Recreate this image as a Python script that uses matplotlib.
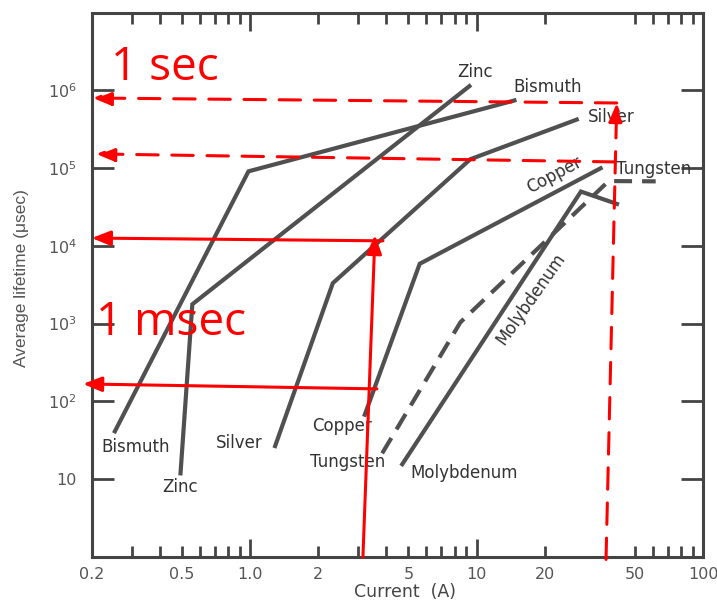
import matplotlib
matplotlib.use("Agg")
import matplotlib.pyplot as plt
from matplotlib.ticker import NullLocator

# ---------------- data ----------------
bismuth_x = [0.253, 0.984, 14.7]
bismuth_y = [41.3, 9.08e4, 7.4e5]
zinc_x = [0.493, 0.556, 9.30]
zinc_y = [11.9, 1775, 1.13e6]
silver_x = [1.29, 2.32, 9.39, 27.7]
silver_y = [26.7, 3320, 1.30e5, 4.2e5]
copper_x = [3.21, 5.61, 35.3]
copper_y = [67.5, 5880, 9.94e4]
tungsten_x = [3.83, 8.49, 38.3, 61.8]
tungsten_y = [21.5, 1043, 6.81e4, 6.75e4]
molybdenum_x = [4.70, 28.9, 41.7]
molybdenum_y = [15.6, 4.99e4, 3.46e4]

# curve labels: (text, x, y, rotation)
curve_labels = [
    ("Zinc", 9.87, 1.71e6, 0),
    ("Bismuth", 20.6, 1.10e6, 0),
    ("Silver", 39.2, 4.53e5, 0),
    ("Copper", 22.1, 8.18e4, 28),
    ("Tungsten", 60.4, 9.6e4, 0),
    ("Molybdenum", 17.4, 2061, 55),
    ("Bismuth", 0.311, 25.9, 0),
    ("Zinc", 0.493, 7.85, 0),
    ("Silver", 0.894, 29.6, 0),
    ("Copper", 2.54, 48.3, 0),
    ("Tungsten", 2.69, 16.7, 0),
    ("Molybdenum", 8.84, 11.9, 0),
]

# red annotation arrows: (tail, tip, dashed)
red_arrows = [
    ((41.6, 6.87e5), (0.202, 7.96e5), True),
    ((37.3, 0.93), (41.6, 6.87e5), True),
    ((40.8, 1.20e5), (0.209, 1.52e5), True),
    ((3.15, 1.0), (3.56, 1.38e4), False),
    ((3.86, 1.16e4), (0.200, 1.26e4), False),
    ((3.63, 145), (0.183, 168), False),
]
red_texts = [("1 sec", 0.243, 1.36e6), ("1 msec", 0.209, 716)]

x_major = [1, 10, 100]
x_major_labels = ["1.0", "10", "100"]
x_minor = [0.2, 0.3, 0.4, 0.5, 0.6, 0.7, 0.8, 0.9, 2, 3, 4, 5, 6, 7, 8, 9,
           20, 50, 60, 70, 80, 90]
x_minor_labels = ["0.2", "", "", "0.5", "", "", "", "", "2", "", "", "5",
                  "", "", "", "", "20", "50", "", "", "", ""]
y_ticks = [10, 1e2, 1e3, 1e4, 1e5, 1e6]
y_tick_labels = ["10", r"$10^2$", r"$10^3$", r"$10^4$", r"$10^5$", r"$10^6$"]

# ---------------- figure ----------------
fig = plt.figure(figsize=(7.17, 6.04), dpi=100)
ax = fig.add_axes([0.1280, 0.0778, 0.8525, 0.9015])
ax.set_xscale("log")
ax.set_yscale("log")
ax.set_xlim(0.2, 100)
ax.set_ylim(1, 1e7)

curve_color = "#505050"
lw = 3
for xs, ys in [(bismuth_x, bismuth_y), (zinc_x, zinc_y), (silver_x, silver_y),
               (copper_x, copper_y), (molybdenum_x, molybdenum_y)]:
    ax.plot(xs, ys, color=curve_color, lw=lw, solid_joinstyle="miter")
ax.plot(tungsten_x, tungsten_y, color=curve_color, lw=lw, dashes=(4.3, 2.4))

label_color = "#333333"
for txt, x, y, rot in curve_labels:
    ax.text(x, y, txt, color=label_color, fontsize=12, family="DejaVu Sans",
            ha="center", va="center", rotation=rot, rotation_mode="anchor")

# red overlays
for tail, tip, dashed in red_arrows:
    ax.annotate("", xy=tip, xytext=tail, annotation_clip=False,
                arrowprops=dict(arrowstyle="-|>,head_length=0.8,head_width=0.32",
                                mutation_scale=14, color="red", lw=2.2,
                                linestyle=(0, (7, 4.5)) if dashed else "-",
                                shrinkA=0, shrinkB=0))
for txt, x, y in red_texts:
    ax.text(x, y, txt, color="red", fontsize=33, family="Open Sans",
            ha="left", va="baseline")

# axes styling
for sp in ax.spines.values():
    sp.set_linewidth(2.2)
    sp.set_color("#444444")

ax.set_xticks(x_major, x_major_labels)
ax.set_xticks(x_minor, x_minor_labels, minor=True)
ax.set_yticks(y_ticks, y_tick_labels)
ax.yaxis.set_minor_locator(NullLocator())

ax.tick_params(axis="x", which="major", direction="in", length=13, width=2,
               top=True, color="#444444", labelcolor="#555555",
               labelsize=11.5, pad=7)
ax.tick_params(axis="x", which="minor", direction="in", length=8, width=2,
               top=True, color="#444444", labelcolor="#555555",
               labelsize=11.5, pad=7)
ax.tick_params(axis="y", which="major", direction="in", length=16, width=2,
               right=True, color="#444444", labelcolor="#555555",
               labelsize=11.5, pad=11)
for lab in ax.get_xticklabels(which="both") + ax.get_yticklabels():
    lab.set_family("DejaVu Sans")

fig.text(22 / 717, 1 - 278 / 604, "Average lifetime (μsec)", rotation=90,
         ha="center", va="center", fontsize=12.5, family="Liberation Sans",
         color="#555555")
fig.text(405 / 717, 1 - 592 / 604, "Current  (A)", ha="center", va="center",
         fontsize=12.5, family="DejaVu Sans", color="#444444")

fig.savefig("out.png", dpi=100)
